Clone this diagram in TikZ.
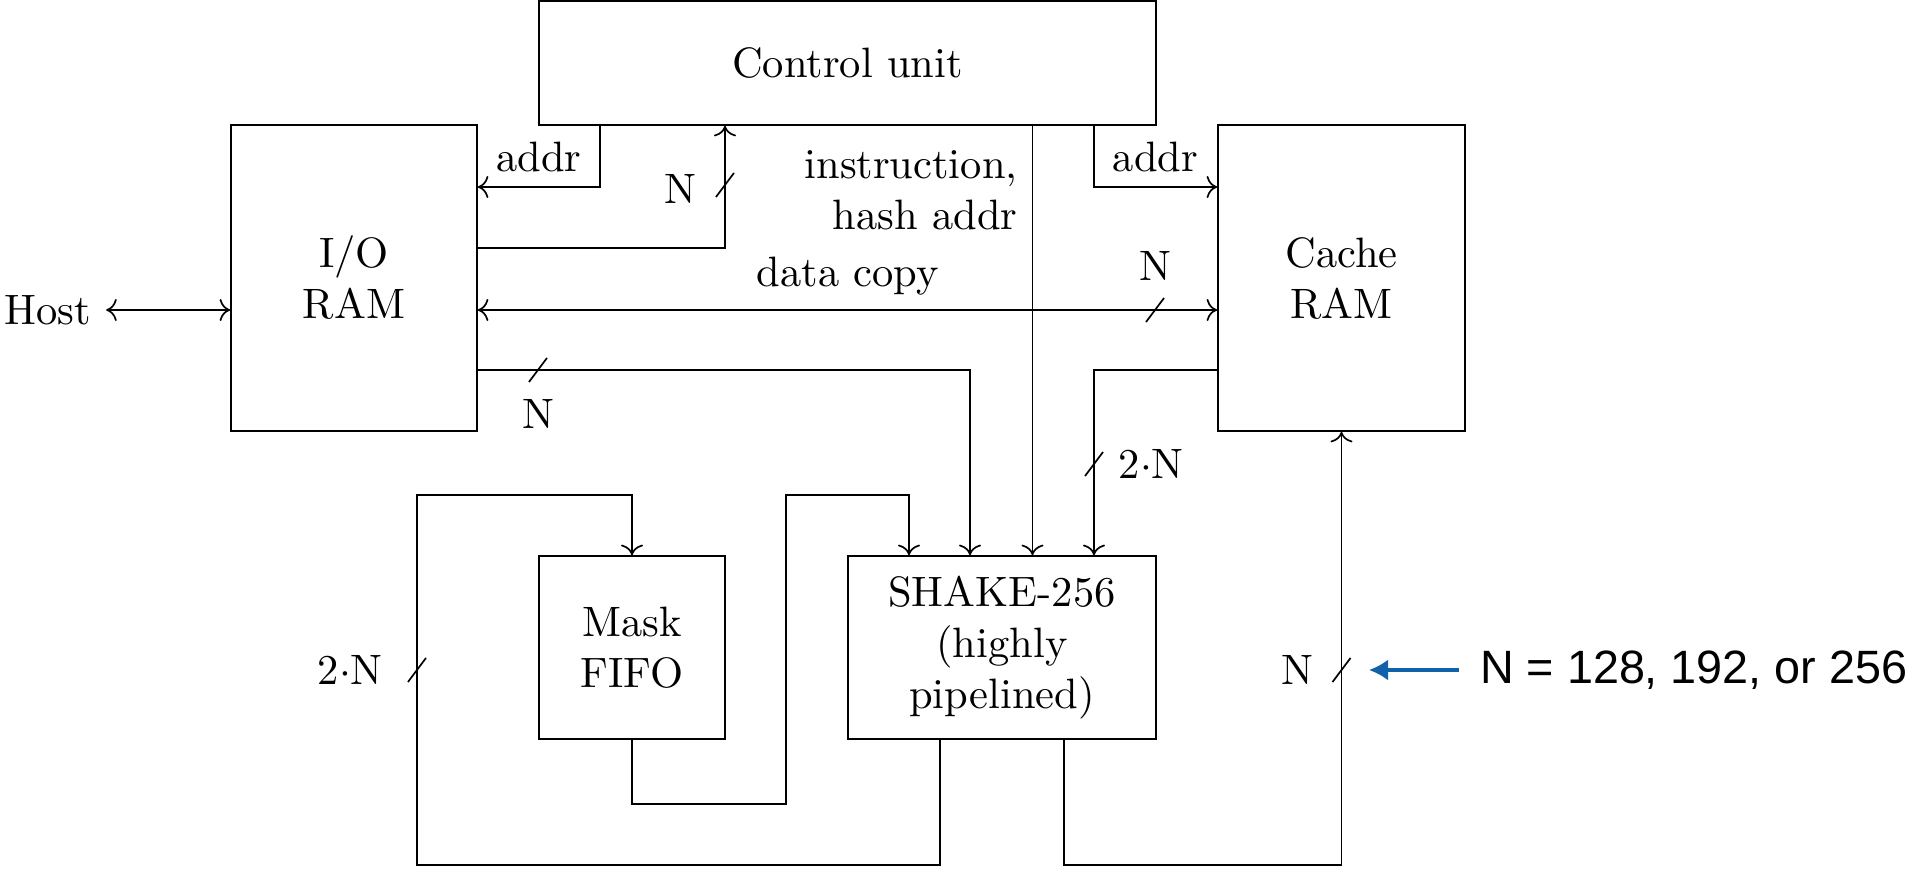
\documentclass[tikz,border=0pt]{standalone}
\usepackage{fontspec}
\newfontfamily\notefont{Liberation Sans}
\usetikzlibrary{calc, arrows.meta, positioning}

\definecolor{noteblue}{RGB}{16,99,170}

% small bus-width tick across a wire
\newcommand{\busslash}[1]{\draw ([shift={(-0.09,-0.12)}]#1) -- ([shift={(0.09,0.12)}]#1);}

\begin{document}
\begin{tikzpicture}[x=0.827cm, y=0.827cm, >=To,
    block/.style={draw, rectangle, align=center, inner sep=0pt}]

    \def\pxu{0.827cm}
    \useasboundingbox (0,0) rectangle (19.16,8.70);

    % ==========================================
    % BLOCKS
    % ==========================================
    \node[block, minimum width={6.17*\pxu}, minimum height={1.24*\pxu}] (ctrl) at (8.475,8.07) {Control unit};
    \node[block, minimum width={2.46*\pxu}, minimum height={3.06*\pxu}] (io) at (3.54,5.92) {I/O\\RAM};
    \node[block, minimum width={2.47*\pxu}, minimum height={3.06*\pxu}] (cache) at (13.415,5.92) {Cache\\RAM};
    \node[block, minimum width={1.86*\pxu}, minimum height={1.83*\pxu}] (mask) at (6.32,2.225) {Mask\\FIFO};
    \node[block, minimum width={3.08*\pxu}, minimum height={1.83*\pxu}] (shake) at (10.02,2.225) {SHAKE-256\\(highly\\pipelined)};

    \node (host) at (0.48,5.60) {Host};

    % ==========================================
    % ROUTING POINTS
    % ==========================================
    \coordinate (addrL) at (6.00,6.83);
    \coordinate (addrR) at (10.94,6.83);
    \coordinate (ioCtrl) at (7.25,6.22);
    \coordinate (cmdX) at (10.325,5.00);
    \coordinate (ioShake) at (9.70,5.00);
    \coordinate (cacheShake) at (10.94,5.00);
    \coordinate (fbA) at (9.40,0.05);
    \coordinate (fbB) at (4.17,3.75);
    \coordinate (mfA) at (7.86,0.66);
    \coordinate (mfB) at (9.09,3.75);
    \coordinate (scA) at (10.64,0.05);

    % ==========================================
    % WIRES
    % ==========================================
    \draw[<->] (host) -- (io.west |- host);

    \draw[->] (ctrl.south -| addrL) |- (io.east |- addrL) node[pos=0.75, above] {addr};
    \draw[->] (io.east |- ioCtrl) -| (ctrl.south -| ioCtrl);
    \draw[->] (ctrl.south -| cmdX) -- (shake.north -| cmdX)
        node[pos=0.15, left, align=right] {instruction,\\hash addr};
    \draw[->] (ctrl.south -| addrR) |- (cache.west |- addrR) node[pos=0.75, above] {addr};

    \draw[<->] (io.east |- host) -- (cache.west |- host) node[midway, above] {data copy};

    \draw[->] (io.east |- ioShake) -| (shake.north -| ioShake);
    \draw[->] (cache.west |- cacheShake) -| (shake.north -| cacheShake);

    % feedback through the mask FIFO
    \draw[->] (shake.south -| fbA) -- (fbA) -| (fbB) -| (mask.north);
    \draw[->] (mask.south) |- (mfA) -- (mfA |- mfB) -| (shake.north -| mfB);

    % result back to the cache
    \draw[->] (shake.south -| scA) |- (cache.south |- scA) -- (cache.south);

    % ==========================================
    % BUS WIDTHS
    % ==========================================
    \coordinate (sCtrl) at (7.25,6.85);
    \coordinate (sCopy) at (11.55,5.60);
    \coordinate (sIo) at (5.38,5.00);
    \coordinate (sCache) at (10.94,4.06);
    \coordinate (sLoop) at (4.17,2.00);
    \coordinate (sOut) at (13.415,2.00);

    \foreach \s in {sCtrl, sCopy, sIo, sCache, sLoop, sOut} {\busslash{\s}}

    \node[left=3.3pt of sCtrl, yshift=-1pt] (nCtrl) {N};
    \node[above=3.5pt of sCopy] (nCopy) {N};
    \node[below=3.4pt of sIo] (nIo) {N};
    \node[right=2.3pt of sCache] (nCache) {2$\cdot$N};
    \node[left=4.5pt of sLoop] (nLoop) {2$\cdot$N};
    \node[left=3pt of sOut] (nOut) {N};

    % note on the bus width
    \node[anchor=west, font=\notefont\fontsize{11}{13}\selectfont] (note) at (14.65,2.00) {N = 128, 192, or 256};
    \coordinate (noteTip) at (13.69,2.00);
    \draw[noteblue, line width=0.75pt, -{Latex[length=4.5pt, width=5pt]}, shorten <=1.5pt] (note.west) -- (noteTip);

\end{tikzpicture}
\end{document}
